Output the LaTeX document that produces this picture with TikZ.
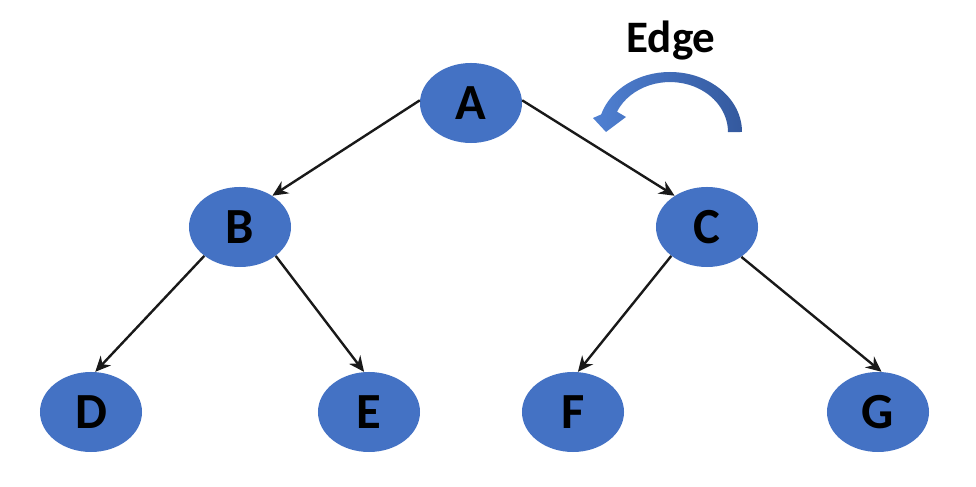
\documentclass[tikz,border=0pt]{standalone}
\usepackage{fontspec}
\setmainfont{Carlito}
\usetikzlibrary{shapes.geometric,arrows.meta}
\definecolor{nodeblue}{HTML}{4472C4}
\definecolor{arcl}{HTML}{4F80D2}
\definecolor{arcr}{HTML}{34599E}
\tikzset{
  treenode/.style={ellipse, fill=nodeblue, draw=none, inner sep=0pt,
    minimum width=2.55cm, minimum height=2cm,
    font=\fontsize{36}{36}\selectfont\bfseries},
  edgearrow/.style={draw=black!90, line width=1.7pt, -{Stealth[length=11pt,width=10pt]}},
  labeltext/.style={font=\fontsize{32}{32}\selectfont\bfseries, inner sep=0pt}
}
\begin{document}
\begin{tikzpicture}[x=0.025cm,y=0.025cm]
\useasboundingbox (0,0) rectangle (976,487);
\node[treenode] (A) at (471,384) {A};
\node[treenode] (B) at (240,260) {B};
\node[treenode] (C) at (707,260) {C};
\node[treenode] (D) at (91,75) {D};
\node[treenode] (E) at (369,75) {E};
\node[treenode] (F) at (573,75) {F};
\node[treenode] (G) at (878,75) {G};
\draw[edgearrow] (A.177) -- (B.44);
\draw[edgearrow] (A.3) -- (C.136);
\draw[edgearrow] (B.219) -- (D.84);
\draw[edgearrow] (B.321) -- (E.97);
\draw[edgearrow] (C.219) -- (F.83);
\draw[edgearrow] (C.319) -- (G.85);
\node[labeltext] (edgelabel) at (671,446) {Edge};
\shade[left color=arcl, right color=arcr]
  (742,355) arc[start angle=0, end angle=163, x radius=72, y radius=60]
  -- (593,369) -- (606,355) -- (626,370) -- (617,375.3)
  arc[start angle=156, end angle=0, x radius=58, y radius=50] -- cycle;
\end{tikzpicture}
\end{document}
